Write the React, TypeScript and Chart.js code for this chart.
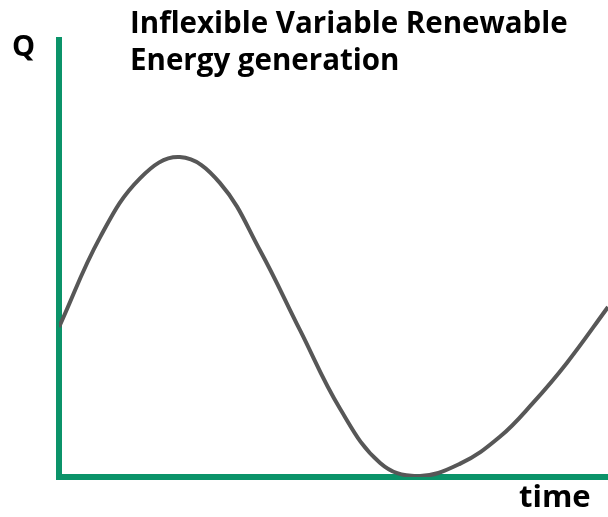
import React, { useEffect, useRef } from "react";
import { Chart, registerables } from "chart.js";

Chart.register(...registerables);

// time (0..100 across the axis) and generation Q (0..100 of the axis height)
const timeValues = [0, 7.5, 14.8, 22.0, 29.3, 36.6, 43.9, 51.2, 58.5, 65.2, 73.0, 80.3, 86.3, 92.5, 100];
const qValues = [34.3, 54.9, 68.4, 73.2, 67.3, 51.9, 33.6, 15.6, 3.2, 0.2, 3.0, 9.2, 16.9, 26.1, 38.9];

const titleLines = ["Inflexible Variable Renewable", "Energy generation"];
const yLabel = "Q";
const xLabel = "time";

const GREEN = "#0b9369";
const CURVE = "#575757";

export default function App() {
  const canvasRef = useRef<HTMLCanvasElement | null>(null);

  useEffect(() => {
    const canvas = canvasRef.current;
    if (!canvas) return;
    const chart = new Chart(canvas, {
      type: "line",
      data: {
        datasets: [
          {
            data: timeValues.map((t, i) => ({ x: t, y: qValues[i] })),
            borderColor: CURVE,
            borderWidth: 4,
            pointRadius: 0,
            tension: 0.4,
            fill: false,
          },
        ],
      },
      options: {
        responsive: false,
        animation: false,
        layout: { padding: { top: 40, left: 0, right: 0, bottom: 0 } },
        plugins: {
          legend: { display: false },
          tooltip: { enabled: false },
          title: { display: false },
        },
        scales: {
          x: {
            type: "linear",
            min: 0,
            max: 100,
            ticks: { display: false },
            grid: { display: false, lineWidth: 0 },
            border: { display: true, color: GREEN, width: 6 },
            afterFit: (scale: any) => {
              scale.height = 40;
            },
          },
          y: {
            type: "linear",
            min: 0,
            max: 100,
            ticks: { display: false },
            grid: { display: false, lineWidth: 0 },
            border: { display: true, color: GREEN, width: 6 },
            afterFit: (scale: any) => {
              scale.width = 59;
            },
          },
        },
      },
    });
    return () => chart.destroy();
  }, []);

  const textStyle: React.CSSProperties = {
    position: "absolute",
    fontFamily: "'Open Sans', sans-serif",
    fontWeight: 700,
    lineHeight: "37px",
    color: "#000",
    whiteSpace: "nowrap",
    margin: 0,
  };

  return (
    <div style={{ position: "fixed", left: 0, top: 0, width: 608, height: 517, background: "#fff" }}>
      <canvas ref={canvasRef} width={608} height={517} style={{ display: "block", width: 608, height: 517 }} />
      <div style={{ ...textStyle, fontSize: 29.5, left: 130, top: 3 }}>
        {titleLines.map((l) => (
          <div key={l}>{l}</div>
        ))}
      </div>
      <div style={{ ...textStyle, fontSize: 29, left: 12, top: 26 }}>{yLabel}</div>
      <div style={{ ...textStyle, fontSize: 31, left: 519, top: 477 }}>{xLabel}</div>
    </div>
  );
}
